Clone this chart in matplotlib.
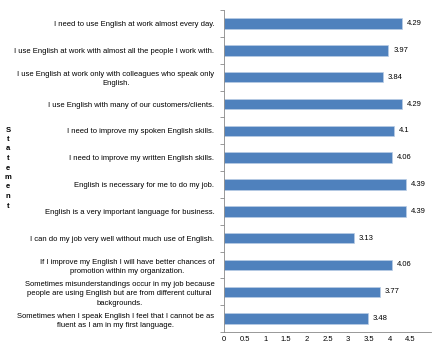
import matplotlib
matplotlib.use("Agg")
import matplotlib.pyplot as plt

statements = [
    "I need to use English at work almost every day.",
    "I use English at work with almost all the people I work with.",
    "I use English at work only with colleagues who speak only\nEnglish.",
    "I use English with many of our customers/clients.",
    "I need to improve my spoken English skills.",
    "I need to improve my written English skills.",
    "English is necessary for me to do my job.",
    "English is a very important language for business.",
    "I can do my job very well without much use of English.",
    "If I improve my English I will have better chances of\npromotion within my organization.",
    "Sometimes misunderstandings occur in my job because\npeople are using English but are from different cultural\nbackgrounds.",
    "Sometimes when I speak English I feel that I cannot be as\nfluent as I am in my first language.",
]
values = [4.29, 3.97, 3.84, 4.29, 4.1, 4.06, 4.39, 4.39, 3.13, 4.06, 3.77, 3.48]
value_labels = ["4.29", "3.97", "3.84", "4.29", "4.1", "4.06", "4.39", "4.39", "3.13", "4.06", "3.77", "3.48"]
xticks = [0, 0.5, 1, 1.5, 2, 2.5, 3, 3.5, 4, 4.5]
xtick_labels = ["0", "0.5", "1", "1.5", "2", "2.5", "3", "3.5", "4", "4.5"]

plt.rcParams['font.family'] = ['Liberation Sans', 'DejaVu Sans']
FS = 5.5

fig = plt.figure(figsize=(4.32, 3.46), dpi=100)
ax = fig.add_axes([0.5185, 0.0405, 0.479, 0.930])

n = len(statements)
ypos = list(range(n))
ax.barh(ypos, values, height=0.39, color="#4F81BD", edgecolor="#B9CDE5", linewidth=0.5)
for y, v, lab in zip(ypos, values, value_labels):
    ax.text(v + 0.12, y, lab, va="center", ha="left", fontsize=FS, color="black")

ax.set_ylim(n - 0.5, -0.5)
ax.set_xlim(0, 5)
ax.set_xticks(xticks)
ax.set_xticklabels(xtick_labels, fontsize=FS)
ax.tick_params(axis="x", length=0, pad=3)

ax.set_yticks(ypos)
ax.set_yticklabels(statements, fontsize=FS, ha="right", multialignment="center",
                   linespacing=1.45)
ax.tick_params(axis="y", length=0, pad=7)
ax.set_yticks([i + 0.5 for i in range(-1, n)], minor=True)
ax.tick_params(axis="y", which="minor", length=3, color="#888888", width=0.6, direction="out")

for side in ["top", "right"]:
    ax.spines[side].set_visible(False)
ax.spines["left"].set_color("#888888")
ax.spines["left"].set_linewidth(0.6)
ax.spines["bottom"].set_color("#888888")
ax.spines["bottom"].set_linewidth(0.6)

fig.text(8 / 432, 1 - 168 / 346, "\n".join("Statement"), ha="center", va="center",
         fontsize=FS, fontweight="bold", linespacing=1.5)

fig.savefig("out.png", dpi=100)
